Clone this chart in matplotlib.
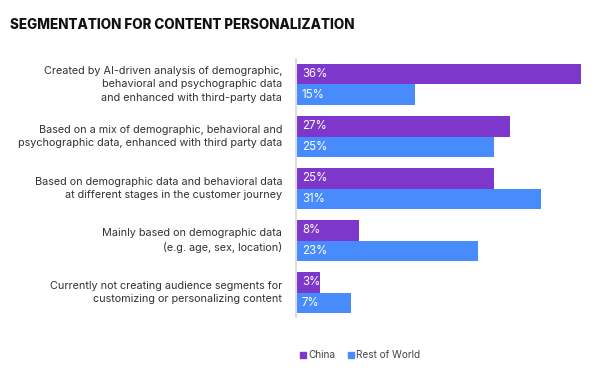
import matplotlib
matplotlib.use("Agg")
import matplotlib.pyplot as plt
from matplotlib.patches import Rectangle

categories = [
    "Created by AI-driven analysis of demographic,\nbehavioral and psychographic data\nand enhanced with third-party data",
    "Based on a mix of demographic, behavioral and\npsychographic data, enhanced with third party data",
    "Based on demographic data and behavioral data\nat different stages in the customer journey",
    "Mainly based on demographic data\n(e.g. age, sex, location)",
    "Currently not creating audience segments for\ncustomizing or personalizing content",
]
china = [36, 27, 25, 8, 3]
rest_of_world = [15, 25, 31, 23, 7]
series_names = ["China", "Rest of World"]
colors = ["#7D38CB", "#488BFD"]

plt.rcParams['font.family'] = ['Inter', 'DejaVu Sans']

fig = plt.figure(figsize=(6, 3.78), dpi=100)
ax = fig.add_axes([296/600, 1-317/378, (590-296)/600, 258/378])

h = 0.395
ys = list(range(len(categories)))
for i, y in enumerate(ys):
    ax.barh(y - h/2, china[i], height=h, color=colors[0])
    ax.barh(y + h/2, rest_of_world[i], height=h, color=colors[1])
    ax.text(0.75, y - h/2, f"{china[i]}%", color="white", va="center", ha="left", fontsize=8.3)
    ax.text(0.75, y + h/2, f"{rest_of_world[i]}%", color="white", va="center", ha="left", fontsize=8.3)
    ax.text(-1.75, y, categories[i], ha="right", va="center", fontsize=7.8, color="#333333", linespacing=1.45)

ax.set_xlim(0, 36 * 294 / 285)
ax.set_ylim(4.47, -0.49)
for s in ["top", "right", "bottom"]:
    ax.spines[s].set_visible(False)
ax.spines["left"].set_color("#dddddd")
ax.spines["left"].set_linewidth(1.5)
ax.set_xticks([])
ax.set_yticks([])

fig.text(10/600, 1-25/378, "SEGMENTATION FOR CONTENT PERSONALIZATION", fontsize=9.7, fontweight="heavy",
         color="#111111", va="center", ha="left")

# legend
lx = [300, 348]
for name, c, x in zip(series_names, colors, lx):
    fig.patches.append(Rectangle((x/600, 1-358/378), 6/600, 6/378, transform=fig.transFigure, color=c))
    fig.text((x+8.5)/600, 1-355/378, name, fontsize=7.2, color="#444444", va="center", ha="left")

fig.savefig("out.png", dpi=100)
